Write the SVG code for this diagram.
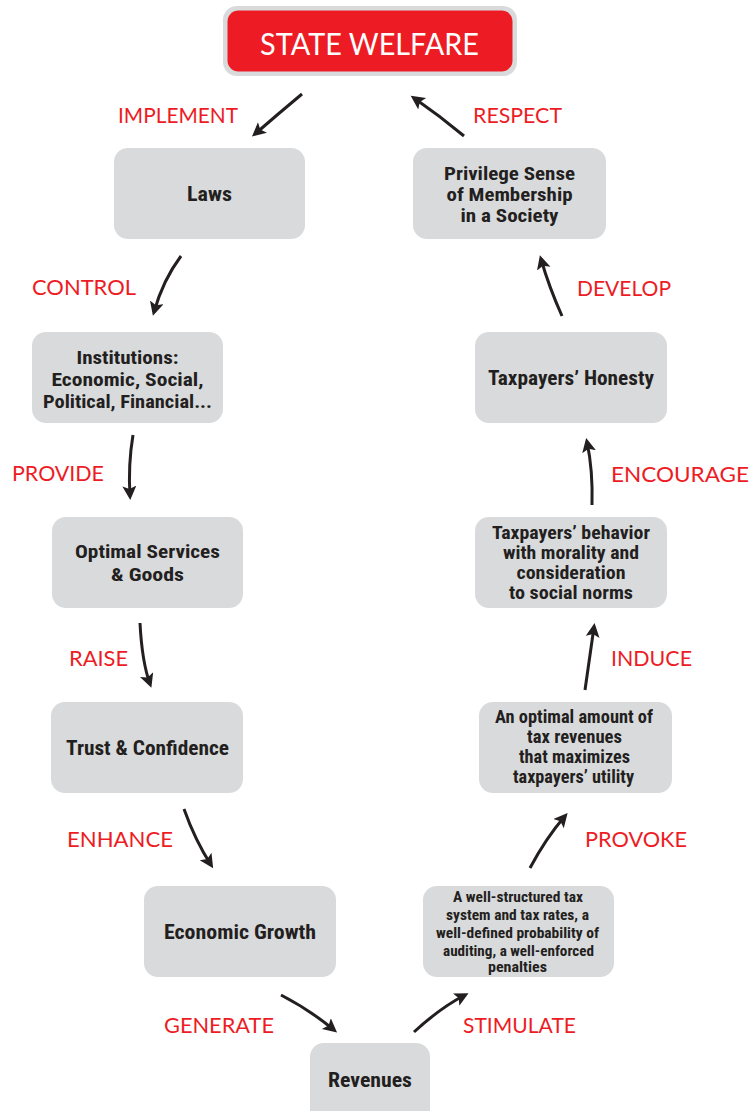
<svg xmlns="http://www.w3.org/2000/svg" width="753" height="1111" viewBox="0 0 753 1111">
<style>
.box{fill:#D9DADC}
.t{font-family:"Liberation Sans Narrow","Roboto Condensed","Liberation Sans",sans-serif;font-weight:bold;fill:#231F20;text-anchor:middle;font-size:20.5px}
.s{font-size:18px}
.xs{font-size:15px}
.lbl{font-family:Lato,"Noto Sans",sans-serif;fill:#ED1C24;font-size:22px}
.c{fill:none;stroke:#231F20;stroke-width:3}
</style>
<defs>
<marker id="ah" markerUnits="userSpaceOnUse" markerWidth="16" markerHeight="16" refX="10" refY="7" orient="auto">
<path d="M0,0 L14,7 L0,14 L3,7 Z" fill="#231F20"/>
</marker>
</defs>
<rect width="753" height="1111" fill="#fff"/>
<g id="title">
<rect x="223" y="6" width="294" height="70" rx="14" fill="#D9DADC"/>
<rect x="227.5" y="10.5" width="285" height="61" rx="11" fill="#ED1C24"/>
<text x="369.5" y="55" font-family="Lato,'Noto Sans',sans-serif" font-size="31" fill="#fff" text-anchor="middle" textLength="219" lengthAdjust="spacingAndGlyphs">STATE WELFARE</text>
</g>
<g id="laws"><rect class="box" x="114" y="148" width="191" height="91" rx="14"/><text class="t" x="209.5" y="201" textLength="45" lengthAdjust="spacingAndGlyphs">Laws</text></g>
<g id="privilege"><rect class="box" x="413" y="148" width="193" height="91" rx="14"/><text class="t s" x="509.5" y="180" textLength="131" lengthAdjust="spacingAndGlyphs">Privilege Sense</text><text class="t s" x="509.5" y="201" textLength="126" lengthAdjust="spacingAndGlyphs">of Membership</text><text class="t s" x="509.5" y="222" textLength="98" lengthAdjust="spacingAndGlyphs">in a Society</text></g>
<g id="institutions"><rect class="box" x="32" y="332" width="191" height="91" rx="14"/><text class="t s" x="127.5" y="364" textLength="102" lengthAdjust="spacingAndGlyphs">Institutions:</text><text class="t s" x="127.5" y="386" textLength="152" lengthAdjust="spacingAndGlyphs">Economic, Social,</text><text class="t s" x="127.5" y="408" textLength="169" lengthAdjust="spacingAndGlyphs">Political, Financial...</text></g>
<g id="honesty"><rect class="box" x="475" y="332" width="192" height="91" rx="14"/><text class="t" x="571" y="385" textLength="166" lengthAdjust="spacingAndGlyphs">Taxpayers’ Honesty</text></g>
<g id="services"><rect class="box" x="52" y="517" width="191" height="91" rx="14"/><text class="t s" x="147.5" y="558" textLength="145" lengthAdjust="spacingAndGlyphs">Optimal Services</text><text class="t s" x="147.5" y="581" textLength="73" lengthAdjust="spacingAndGlyphs">&amp; Goods</text></g>
<g id="behavior"><rect class="box" x="475" y="517" width="192" height="91" rx="14"/><text class="t s" x="571" y="539" textLength="158" lengthAdjust="spacingAndGlyphs">Taxpayers’ behavior</text><text class="t s" x="571" y="559" textLength="136" lengthAdjust="spacingAndGlyphs">with morality and</text><text class="t s" x="571" y="579" textLength="109" lengthAdjust="spacingAndGlyphs">consideration</text><text class="t s" x="571" y="599" textLength="124" lengthAdjust="spacingAndGlyphs">to social norms</text></g>
<g id="trust"><rect class="box" x="51" y="702" width="192" height="91" rx="14"/><text class="t" x="147.5" y="755" textLength="163" lengthAdjust="spacingAndGlyphs">Trust &amp; Confidence</text></g>
<g id="optimal"><rect class="box" x="479" y="702" width="193" height="91" rx="14"/><text class="t s" x="574" y="723" textLength="158" lengthAdjust="spacingAndGlyphs">An optimal amount of</text><text class="t s" x="574.5" y="743" textLength="95" lengthAdjust="spacingAndGlyphs">tax revenues</text><text class="t s" x="574.5" y="763" textLength="111" lengthAdjust="spacingAndGlyphs">that maximizes</text><text class="t s" x="573.5" y="783" textLength="121" lengthAdjust="spacingAndGlyphs">taxpayers’ utility</text></g>
<g id="growth"><rect class="box" x="144" y="886" width="192" height="91" rx="14"/><text class="t" x="240" y="939" textLength="152" lengthAdjust="spacingAndGlyphs">Economic Growth</text></g>
<g id="structured"><rect class="box" x="423" y="886" width="191" height="91" rx="14"/><text class="t xs" x="518" y="902" textLength="130" lengthAdjust="spacingAndGlyphs">A well-structured tax</text><text class="t xs" x="517.5" y="920" textLength="143" lengthAdjust="spacingAndGlyphs">system and tax rates, a</text><text class="t xs" x="517.5" y="938" textLength="163" lengthAdjust="spacingAndGlyphs">well-defined probability of</text><text class="t xs" x="518.5" y="956" textLength="151" lengthAdjust="spacingAndGlyphs">auditing, a well-enforced</text><text class="t xs" x="517.5" y="972" textLength="59" lengthAdjust="spacingAndGlyphs">penalties</text></g>
<g id="revenues"><rect class="box" x="310" y="1043" width="120" height="90" rx="14"/><text class="t" x="370" y="1087" textLength="84" lengthAdjust="spacingAndGlyphs">Revenues</text></g>
<g id="connectors">
<path class="c" marker-end="url(#ah)" d="M302,94 Q278,114 255,134"/>
<path class="c" marker-end="url(#ah)" d="M464,136 Q440,116 414,98"/>
<path class="c" marker-end="url(#ah)" d="M181,256 Q163,280 154,312"/>
<path class="c" marker-end="url(#ah)" d="M133,435 Q128,465 130,496"/>
<path class="c" marker-end="url(#ah)" d="M140,623 Q142,662 150,684"/>
<path class="c" marker-end="url(#ah)" d="M184,809 Q195,840 211,865"/>
<path class="c" marker-end="url(#ah)" d="M281,995 Q310,1010 334,1030"/>
<path class="c" marker-end="url(#ah)" d="M414,1032 Q440,1008 465,995"/>
<path class="c" marker-end="url(#ah)" d="M530,868 Q546,838 565,816"/>
<path class="c" marker-end="url(#ah)" d="M585,690 Q590,655 594,627"/>
<path class="c" marker-end="url(#ah)" d="M592,505 Q593,470 587,442"/>
<path class="c" marker-end="url(#ah)" d="M562,316 Q549,287 541,259"/>
</g>
<g id="labels">
<text class="lbl" x="118" y="123" textLength="120" lengthAdjust="spacingAndGlyphs">IMPLEMENT</text>
<text class="lbl" x="473" y="123" textLength="89" lengthAdjust="spacingAndGlyphs">RESPECT</text>
<text class="lbl" x="32" y="295" textLength="104" lengthAdjust="spacingAndGlyphs">CONTROL</text>
<text class="lbl" x="577" y="296" textLength="94" lengthAdjust="spacingAndGlyphs">DEVELOP</text>
<text class="lbl" x="12" y="481" textLength="92" lengthAdjust="spacingAndGlyphs">PROVIDE</text>
<text class="lbl" x="611" y="482" textLength="138" lengthAdjust="spacingAndGlyphs">ENCOURAGE</text>
<text class="lbl" x="69" y="666" textLength="59" lengthAdjust="spacingAndGlyphs">RAISE</text>
<text class="lbl" x="611" y="666" textLength="81" lengthAdjust="spacingAndGlyphs">INDUCE</text>
<text class="lbl" x="67" y="847" textLength="106" lengthAdjust="spacingAndGlyphs">ENHANCE</text>
<text class="lbl" x="585" y="847" textLength="102" lengthAdjust="spacingAndGlyphs">PROVOKE</text>
<text class="lbl" x="164" y="1033" textLength="110" lengthAdjust="spacingAndGlyphs">GENERATE</text>
<text class="lbl" x="463" y="1033" textLength="113" lengthAdjust="spacingAndGlyphs">STIMULATE</text>
</g>
</svg>
